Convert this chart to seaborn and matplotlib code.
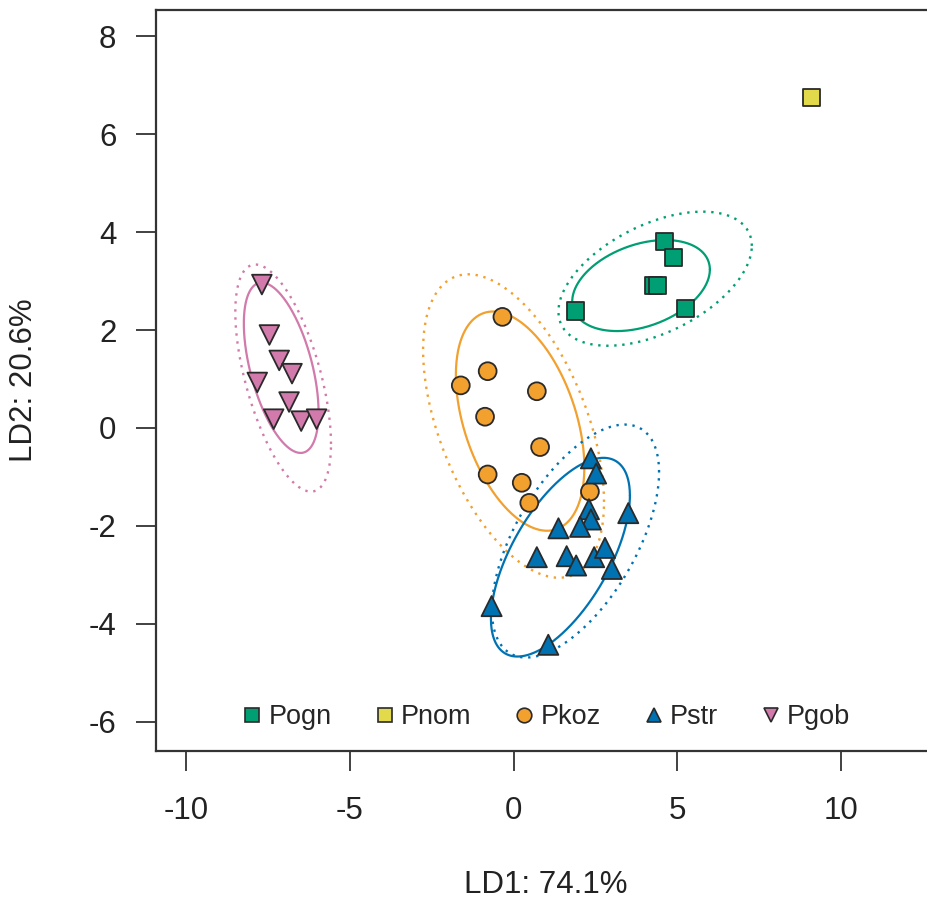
import numpy as np
import pandas as pd
import matplotlib
matplotlib.use("Agg")
import matplotlib.pyplot as plt
import seaborn as sns
from matplotlib.lines import Line2D

# ---------------- data ----------------
groups = ["Pogn", "Pnom", "Pkoz", "Pstr", "Pgob"]

pogn_x = [4.62, 4.89, 4.28, 4.39, 5.24, 1.88]
pogn_y = [3.81, 3.49, 2.92, 2.91, 2.45, 2.39]

pnom_x = [9.10]
pnom_y = [6.76]

pkoz_x = [-0.34, -0.79, -1.61, 0.71, -0.87, 0.81, -0.79, 0.25, 0.48, 2.33]
pkoz_y = [2.27, 1.16, 0.87, 0.75, 0.23, -0.39, -0.95, -1.12, -1.53, -1.30]

pstr_x = [2.36, 2.52, 2.30, 2.36, 3.50, 1.37, 2.03, 0.71, 1.62, 1.91, 2.46, 2.79, 3.00, -0.67, 1.06]
pstr_y = [-0.62, -0.93, -1.66, -1.87, -1.74, -2.05, -2.02, -2.64, -2.62, -2.81, -2.64, -2.45, -2.88, -3.64, -4.43]

pgob_x = [-7.68, -7.45, -7.15, -6.76, -7.82, -6.85, -7.32, -6.48, -6.01]
pgob_y = [2.93, 1.90, 1.38, 1.11, 0.93, 0.53, 0.18, 0.14, 0.18]

# ellipses (center, half x-extent, half y-extent, correlation)
ell_groups = ["Pogn", "Pkoz", "Pstr", "Pgob"]
solid_cx = [3.89, 0.20, 1.43, -7.09]
solid_cy = [2.91, 0.14, -2.64, 1.23]
solid_sx = [2.10, 1.96, 2.12, 1.14]
solid_sy = [0.93, 2.24, 2.03, 1.74]
solid_r = [0.35, -0.42, 0.62, -0.52]
dot_cx = [4.32, 0.00, 1.89, -7.03]
dot_cy = [3.05, 0.04, -2.31, 1.02]
dot_sx = [2.95, 2.76, 2.55, 1.46]
dot_sy = [1.37, 3.10, 2.38, 2.32]
dot_r = [0.49, -0.50, 0.59, -0.58]

x_ticks = [-10, -5, 0, 5, 10]
y_ticks = [-6, -4, -2, 0, 2, 4, 6, 8]
x_label = "LD1: 74.1%"
y_label = "LD2: 20.6%"

# ---------------- styling ----------------
palette = {"Pogn": "#009E73", "Pnom": "#E2DA4A", "Pkoz": "#F2A02E",
           "Pstr": "#0072B2", "Pgob": "#D17AAB"}
markers = {"Pogn": "s", "Pnom": "s", "Pkoz": "o", "Pstr": "^", "Pgob": "v"}
sizes = {"Pogn": 150, "Pnom": 150, "Pkoz": 165, "Pstr": 210, "Pgob": 200}

sns.set_style("ticks")
plt.rcParams["font.family"] = ["Liberation Sans", "DejaVu Sans"]

df = pd.concat([
    pd.DataFrame({"LD1": pogn_x, "LD2": pogn_y, "group": "Pogn"}),
    pd.DataFrame({"LD1": pnom_x, "LD2": pnom_y, "group": "Pnom"}),
    pd.DataFrame({"LD1": pkoz_x, "LD2": pkoz_y, "group": "Pkoz"}),
    pd.DataFrame({"LD1": pstr_x, "LD2": pstr_y, "group": "Pstr"}),
    pd.DataFrame({"LD1": pgob_x, "LD2": pgob_y, "group": "Pgob"}),
], ignore_index=True)

fig = plt.figure(figsize=(9.28, 8.99), dpi=100)
ax = fig.add_axes([156 / 928, (899 - 751) / 899, (936 - 156) / 928, (751 - 10) / 899])

# ellipses
t = np.linspace(0, 2 * np.pi, 400)
def ell(cx, cy, sx, sy, r):
    x = cx + sx * np.cos(t)
    y = cy + r * sy * np.cos(t) + sy * np.sqrt(1 - r * r) * np.sin(t)
    return x, y

for i, g in enumerate(ell_groups):
    x, y = ell(solid_cx[i], solid_cy[i], solid_sx[i], solid_sy[i], solid_r[i])
    ax.plot(x, y, color=palette[g], lw=1.6, zorder=2)
    x, y = ell(dot_cx[i], dot_cy[i], dot_sx[i], dot_sy[i], dot_r[i])
    ax.plot(x, y, color=palette[g], lw=1.7, ls=(0, (1.0, 2.4)), zorder=2)

sns.scatterplot(data=df, x="LD1", y="LD2", hue="group", style="group",
                size="group", sizes=sizes, markers=markers, palette=palette,
                hue_order=groups, style_order=groups, size_order=groups,
                edgecolor="#2a2a2a", linewidth=1.3, alpha=1, legend=False,
                ax=ax, zorder=3)

ax.set_xlim(-10.91, 12.89)
ax.set_ylim(-6.60, 8.54)
ax.set_xticks(x_ticks)
ax.set_yticks(y_ticks)
ax.set_xticklabels([str(v) for v in x_ticks])
ax.set_yticklabels([str(v) for v in y_ticks])

for s in ax.spines.values():
    s.set_color("#333333")
    s.set_linewidth(1.6)
ax.spines["right"].set_visible(False)
ax.tick_params(axis="both", direction="out", length=14.5, width=1.3,
               color="#333333", labelsize=22.5, labelcolor="#222222")
ax.tick_params(axis="x", pad=18)
ax.tick_params(axis="y", pad=14)

ax.set_xlabel(x_label, fontsize=22.5, color="#222222", va="center")
ax.set_ylabel(y_label, fontsize=22.5, color="#222222", va="center")
ax.xaxis.set_label_coords(0.5, (751 - 885) / 741)
ax.yaxis.set_label_coords((24 - 156) / 780, 0.5)

handles = [Line2D([], [], ls="none", marker=markers[g], markersize=10.5,
                  markerfacecolor=palette[g], markeredgecolor="#2a2a2a",
                  markeredgewidth=1.2) for g in groups]
ax.legend(handles, groups, loc="center", bbox_to_anchor=((546 - 156) / 780, (751 - 717) / 741),
          ncol=5, frameon=False, fontsize=19.5, handletextpad=0.2,
          columnspacing=1.55, handlelength=0.8, borderaxespad=0)

fig.savefig("out.png", dpi=100)
